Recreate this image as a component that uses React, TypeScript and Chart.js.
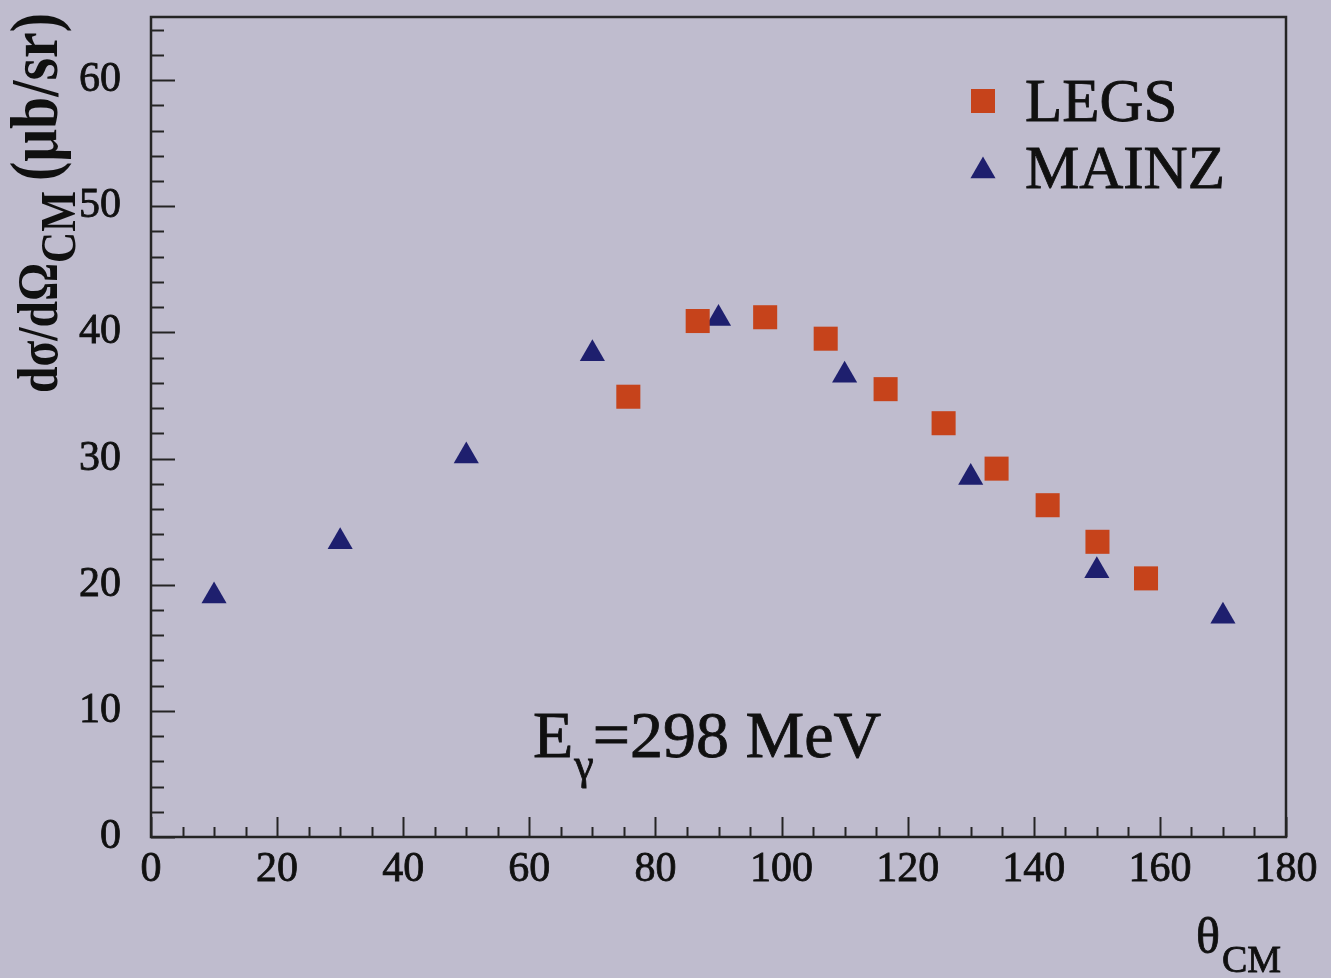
import React, { useEffect, useRef } from "react";
import { Chart, registerables } from "chart.js";

Chart.register(...registerables);

// ---- data ----
const legsTheta = [75.7, 86.7, 97.4, 107.0, 116.5, 125.7, 134.1, 142.2, 150.1, 157.8];
const legsValues = [34.9, 40.9, 41.2, 39.5, 35.5, 32.8, 29.2, 26.3, 23.4, 20.5];
const mainzTheta = [10, 30, 50, 70, 90, 110, 130, 150, 170];
const mainzValues = [19.1, 23.4, 30.2, 38.3, 41.1, 36.6, 28.5, 21.1, 17.5];

const xTickValues = [0, 20, 40, 60, 80, 100, 120, 140, 160, 180];
const yTickValues = [0, 10, 20, 30, 40, 50, 60];
const X_MIN = 0;
const X_MAX = 180;
const Y_MIN = 0;
const Y_MAX = 65;
const X_MINOR_STEP = 5;
const Y_MINOR_STEP = 2;

const seriesNames = ["LEGS", "MAINZ"];
const annotationMain = "E";
const annotationSub = "γ";
const annotationRest = "=298 MeV";

// ---- style ----
const BG = "#bfbcce";
const INK = "#101010";
const AXIS = "#242424";
const LEGS_COLOR = "#c6431b";
const MAINZ_COLOR = "#1e1f6e";
const SERIF = "'Liberation Serif', 'Times New Roman', serif";

const heavyText = (ctx: CanvasRenderingContext2D, t: string, x: number, y: number, w = 0.8) => {
  ctx.lineWidth = w;
  ctx.strokeStyle = INK;
  ctx.strokeText(t, x, y);
  ctx.fillText(t, x, y);
};

const decorPlugin = {
  id: "decor",
  beforeDatasetsDraw(chart: any) {
    const { ctx, chartArea, scales } = chart;
    const xs = scales.x;
    const ys = scales.y;
    ctx.save();
    ctx.strokeStyle = AXIS;
    ctx.lineWidth = 2;
    for (let v = X_MIN; v <= X_MAX; v += X_MINOR_STEP) {
      const px = Math.round(xs.getPixelForValue(v)) + 0.5;
      const len = v % 20 === 0 ? 20 : 10;
      ctx.beginPath();
      ctx.moveTo(px, chartArea.bottom);
      ctx.lineTo(px, chartArea.bottom - len);
      ctx.stroke();
    }
    for (let v = Y_MIN; v <= Y_MAX; v += Y_MINOR_STEP) {
      const py = Math.round(ys.getPixelForValue(v)) + 0.5;
      const len = v % 10 === 0 ? 24 : 13;
      ctx.beginPath();
      ctx.moveTo(chartArea.left, py);
      ctx.lineTo(chartArea.left + len, py);
      ctx.stroke();
    }
    ctx.lineWidth = 2.5;
    ctx.strokeRect(chartArea.left, chartArea.top, chartArea.right - chartArea.left, chartArea.bottom - chartArea.top);
    ctx.restore();
  },
  afterDraw(chart: any) {
    const { ctx } = chart;
    ctx.save();
    ctx.fillStyle = INK;
    ctx.textBaseline = "alphabetic";
    ctx.textAlign = "left";

    // ---- y axis title (rotated) ----
    const fit = (text: string, target: number, weight: string) => {
      ctx.font = `${weight} 100px ${SERIF}`;
      const w = ctx.measureText(text).width;
      return (100 * target) / w;
    };
    const parts = [
      { t: "dσ/dΩ", target: 130, dy: 0, gap: 0 },
      { t: "CM", target: 72, dy: 18, gap: 0 },
      { t: "(μb/sr)", target: 168, dy: 0, gap: 10 },
    ];
    ctx.save();
    ctx.translate(57, 393);
    ctx.rotate(-Math.PI / 2);
    let cx = 0;
    for (const p of parts) {
      const size = fit(p.t, p.target, "bold");
      cx += p.gap;
      ctx.save();
      ctx.translate(cx, p.dy);
      ctx.scale(1, 1.18);
      ctx.font = `bold ${size}px ${SERIF}`;
      ctx.fillText(p.t, 0, 0);
      ctx.restore();
      cx += p.target;
    }
    ctx.restore();

    // ---- x axis title θ_CM ----
    ctx.font = `50px ${SERIF}`;
    heavyText(ctx, "θ", 1196, 953);
    const thW = ctx.measureText("θ").width;
    ctx.font = `38px ${SERIF}`;
    heavyText(ctx, "CM", 1196 + thW + 2, 972);

    // ---- annotation E_γ=298 MeV ----
    ctx.font = `66px ${SERIF}`;
    let ax = 533;
    heavyText(ctx, annotationMain, ax, 757);
    ax += ctx.measureText(annotationMain).width;
    ctx.font = `44px ${SERIF}`;
    heavyText(ctx, annotationSub, ax + 1, 779);
    ax += ctx.measureText(annotationSub).width;
    ctx.font = `66px ${SERIF}`;
    heavyText(ctx, annotationRest, ax, 757);

    // ---- legend ----
    const legendRows = [
      { name: seriesNames[0], y: 121, my: 101 },
      { name: seriesNames[1], y: 188, my: 171 },
    ];
    chart.data.datasets.forEach((ds: any, i: number) => {
      const row = legendRows[i];
      const r = ds.pointRadius;
      ctx.fillStyle = ds.backgroundColor;
      ctx.beginPath();
      if (ds.pointStyle === "rect") {
        const s = Math.SQRT1_2 * r;
        ctx.rect(983 - s, row.my - s, 2 * s, 2 * s);
      } else {
        for (let k = 0; k < 3; k++) {
          const a = (k * 2 * Math.PI) / 3;
          const px = 983 + Math.sin(a) * r;
          const py = row.my - Math.cos(a) * r;
          if (k === 0) ctx.moveTo(px, py);
          else ctx.lineTo(px, py);
        }
        ctx.closePath();
      }
      ctx.fill();
      ctx.fillStyle = INK;
      ctx.font = `61px ${SERIF}`;
      heavyText(ctx, row.name, 1025, row.y);
    });
    ctx.restore();
  },
};

export default function App() {
  const canvasRef = useRef<HTMLCanvasElement | null>(null);

  useEffect(() => {
    document.body.style.margin = "0";
    document.body.style.background = BG;
    const canvas = canvasRef.current;
    if (!canvas) return;
    const chart = new Chart(canvas, {
      type: "scatter",
      data: {
        datasets: [
          {
            label: seriesNames[0],
            data: legsTheta.map((x, i) => ({ x, y: legsValues[i] })),
            pointStyle: "rect",
            pointRadius: 17,
            pointHoverRadius: 17,
            backgroundColor: LEGS_COLOR,
            borderColor: LEGS_COLOR,
            borderWidth: 0,
          },
          {
            label: seriesNames[1],
            data: mainzTheta.map((x, i) => ({ x, y: mainzValues[i] })),
            pointStyle: "triangle",
            pointRadius: 14.5,
            pointHoverRadius: 14.5,
            backgroundColor: MAINZ_COLOR,
            borderColor: MAINZ_COLOR,
            borderWidth: 0,
          },
        ],
      },
      options: {
        animation: false,
        responsive: true,
        maintainAspectRatio: false,
        layout: { padding: { top: 15, right: 45, left: 0, bottom: 0 } },
        plugins: {
          legend: { display: false },
          tooltip: { enabled: false },
          title: { display: false },
        },
        scales: {
          x: {
            type: "linear",
            min: X_MIN,
            max: X_MAX,
            grid: { display: false, drawTicks: false },
            border: { display: false },
            afterBuildTicks: (scale: any) => {
              scale.ticks = xTickValues.map((value) => ({ value }));
            },
            afterFit: (scale: any) => {
              scale.height = 978 - 837;
              scale.paddingLeft = 0;
              scale.paddingRight = 0;
              scale.paddingTop = 0;
              scale.paddingBottom = 0;
            },
            ticks: {
              color: INK,
              padding: 8,
              maxRotation: 0,
              autoSkip: false,
              textStrokeColor: INK,
              textStrokeWidth: 0.8,
              font: { family: SERIF, size: 42 },
            },
          },
          y: {
            type: "linear",
            min: Y_MIN,
            max: Y_MAX,
            grid: { display: false, drawTicks: false },
            border: { display: false },
            afterBuildTicks: (scale: any) => {
              scale.ticks = yTickValues.map((value) => ({ value }));
            },
            afterFit: (scale: any) => {
              scale.width = 151;
              scale.paddingTop = 0;
              scale.paddingBottom = 0;
              scale.paddingLeft = 0;
              scale.paddingRight = 0;
            },
            ticks: {
              color: INK,
              padding: 30,
              autoSkip: false,
              textStrokeColor: INK,
              textStrokeWidth: 0.8,
              font: { family: SERIF, size: 42 },
            },
          },
        },
      },
      plugins: [decorPlugin],
    });
    return () => chart.destroy();
  }, []);

  return (
    <div style={{ position: "absolute", left: 0, top: 0, width: 1331, height: 978, background: BG }}>
      <canvas ref={canvasRef} />
    </div>
  );
}
